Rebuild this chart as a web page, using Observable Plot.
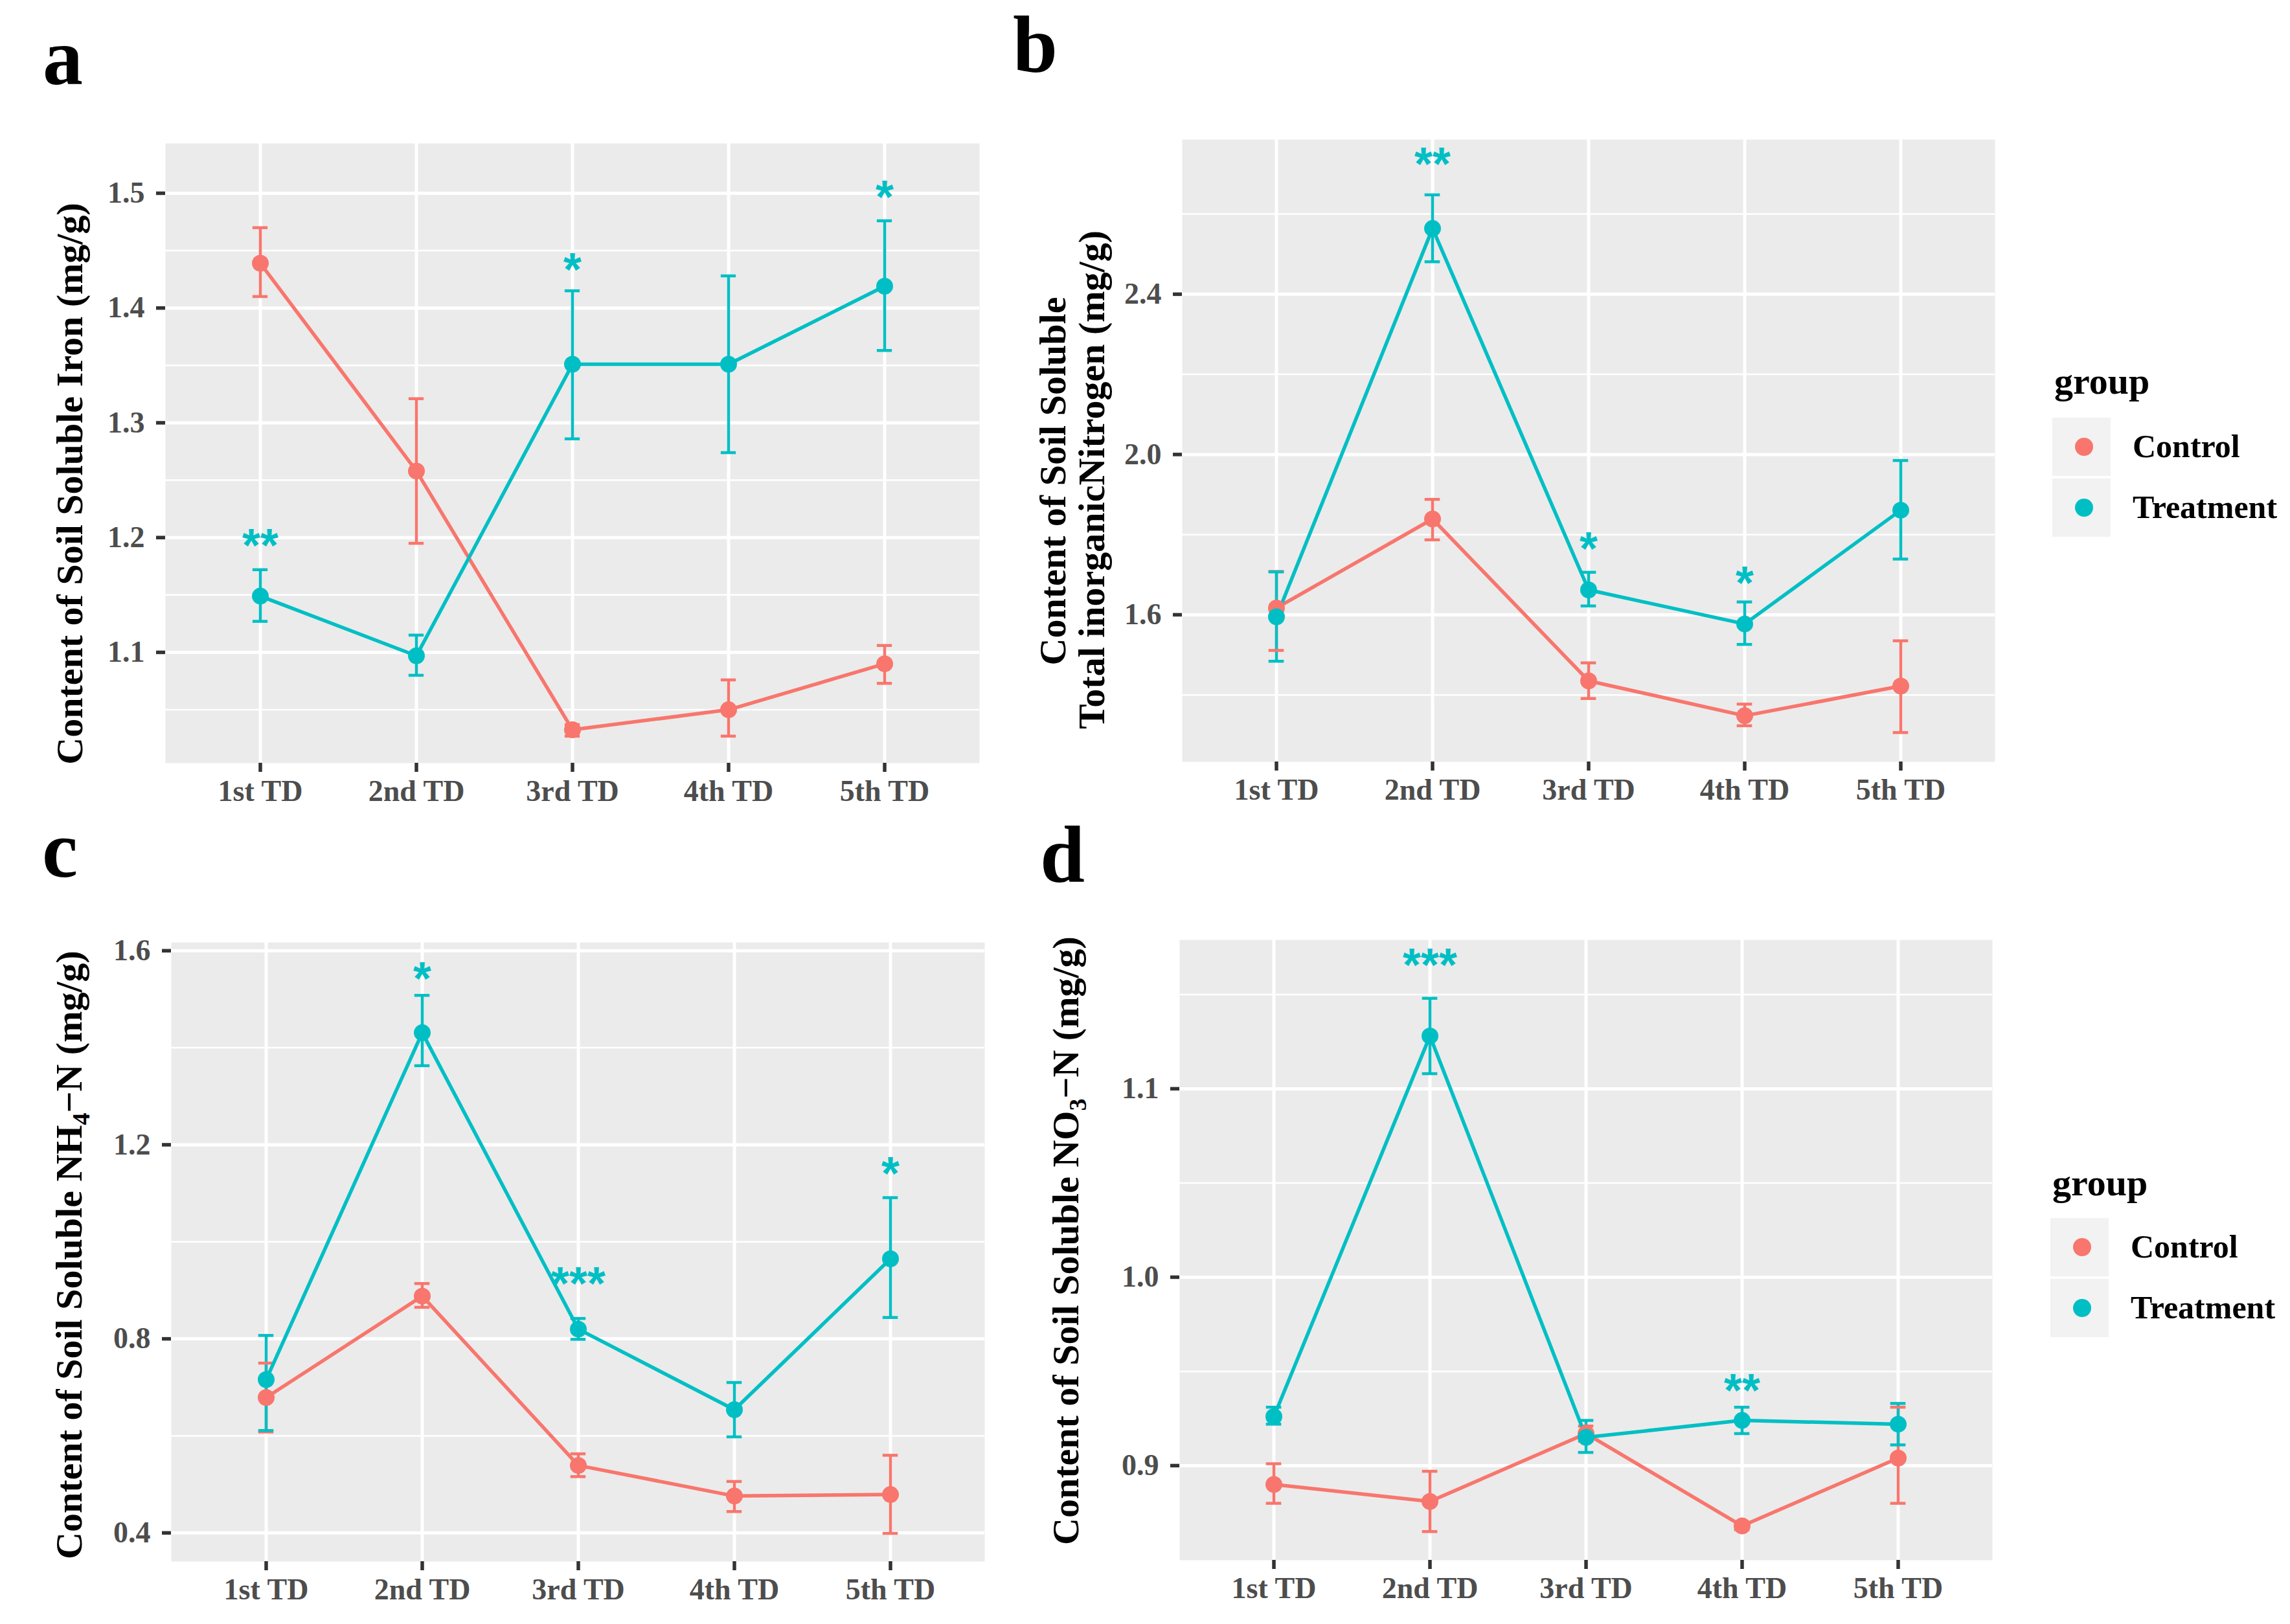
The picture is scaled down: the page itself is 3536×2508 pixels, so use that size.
<!DOCTYPE html>
<html>
<head>
<meta charset="utf-8">
<script src="https://cdn.jsdelivr.net/npm/d3@7"></script>
<script src="https://cdn.jsdelivr.net/npm/@observablehq/plot@0.6"></script>
<style>
  html, body { margin: 0; padding: 0; background: #fff; }
  #root { position: relative; width: 3536px; height: 2508px; background: #fff; overflow: hidden; }
  #root > svg, #root > figure { position: absolute; margin: 0; }
  #overlay { left: 0; top: 0; pointer-events: none; }
</style>
</head>
<body>
<div id="root"></div>
<script>
// ---------- data ----------
const tds = ["1st TD", "2nd TD", "3rd TD", "4th TD", "5th TD"];
const groups = ["Control", "Treatment"];
const groupColors = ["#F8766D", "#00BFC4"];

// a: soluble iron
const ironControl   = [1.439, 1.258, 1.0325, 1.050, 1.090];
const ironControlLo = [1.410, 1.195, 1.027, 1.027, 1.073];
const ironControlHi = [1.470, 1.321, 1.037, 1.076, 1.106];
const ironTreat     = [1.149, 1.097, 1.351, 1.351, 1.419];
const ironTreatLo   = [1.127, 1.080, 1.286, 1.274, 1.363];
const ironTreatHi   = [1.172, 1.115, 1.415, 1.428, 1.476];
const ironSig       = ["**", "", "*", "", "*"];
const ironSigY      = [1.197, null, 1.437, null, 1.500];
const ironTicks     = [1.1, 1.2, 1.3, 1.4, 1.5];
const ironMinor     = [1.05, 1.15, 1.25, 1.35, 1.45];

// b: total inorganic nitrogen
const tinControl   = [1.617, 1.839, 1.435, 1.348, 1.422];
const tinControlLo = [1.511, 1.787, 1.391, 1.323, 1.306];
const tinControlHi = [1.708, 1.888, 1.480, 1.377, 1.535];
const tinTreat     = [1.595, 2.564, 1.662, 1.577, 1.861];
const tinTreatLo   = [1.484, 2.481, 1.622, 1.526, 1.739];
const tinTreatHi   = [1.707, 2.648, 1.706, 1.632, 1.985];
const tinSig       = ["", "**", "*", "*", ""];
const tinSigY      = [null, 2.735, 1.775, 1.690, null];
const tinTicks     = [1.6, 2.0, 2.4];
const tinMinor     = [1.4, 1.8, 2.2, 2.6];

// c: NH4-N
const nhControl   = [0.679, 0.888, 0.539, 0.476, 0.479];
const nhControlLo = [0.608, 0.865, 0.516, 0.444, 0.399];
const nhControlHi = [0.750, 0.914, 0.563, 0.506, 0.560];
const nhTreat     = [0.716, 1.431, 0.820, 0.654, 0.965];
const nhTreatLo   = [0.611, 1.363, 0.799, 0.598, 0.844];
const nhTreatHi   = [0.807, 1.508, 0.842, 0.710, 1.091];
const nhSig       = ["", "*", "***", "", "*"];
const nhSigY      = [null, 1.551, 0.922, null, 1.149];
const nhTicks     = [0.4, 0.8, 1.2, 1.6];
const nhMinor     = [0.6, 1.0, 1.4];

// d: NO3-N
const noControl   = [0.890, 0.881, 0.917, 0.868, 0.904];
const noControlLo = [0.880, 0.865, 0.913, 0.866, 0.880];
const noControlHi = [0.901, 0.897, 0.921, 0.870, 0.931];
const noTreat     = [0.926, 1.128, 0.915, 0.924, 0.922];
const noTreatLo   = [0.922, 1.108, 0.907, 0.917, 0.911];
const noTreatHi   = [0.931, 1.148, 0.924, 0.931, 0.933];
const noSig       = ["", "***", "", "**", ""];
const noSigY      = [null, 1.168, null, 0.942, null];
const noTicks     = [0.9, 1.0, 1.1];
const noMinor     = [0.95, 1.05, 1.15];

// ---------- helpers ----------
function makeRows(c, cl, ch, t, tl, th) {
  const out = [];
  [[c, cl, ch], [t, tl, th]].forEach(([m, lo, hi], gi) => {
    tds.forEach((td, i) => out.push({td, group: groups[gi], mean: m[i], lo: lo[i], hi: hi[i]}));
  });
  return out;
}
function makeSig(labels, ys) {
  return tds.map((td, i) => ({td, label: labels[i], y: ys[i]})).filter(d => d.label);
}

const SERIF = "'Liberation Serif', 'Times New Roman', Times, serif";
const root = document.getElementById("root");

function panel(cfg) {
  const {left, top, width, height, ml, mr, mt, mb, domain, major, minor, rows, sig} = cfg;
  const bw = (width - ml - mr) / 5.2;
  const inset = (bw - 24) / 2;
  const chart = Plot.plot({
    width, height,
    marginLeft: ml, marginRight: mr, marginTop: mt, marginBottom: mb,
    x: {type: "band", domain: tds, paddingInner: 0, paddingOuter: 0.1, align: 0.5, label: null},
    y: {domain, label: null},
    color: {domain: groups, range: groupColors},
    style: {fontFamily: SERIF, fontWeight: "bold", background: "transparent", overflow: "visible"},
    marks: [
      Plot.frame({fill: "#EBEBEB", stroke: "none"}),
      Plot.ruleY(minor.filter(v => v > domain[0] && v < domain[1]), {stroke: "white", strokeWidth: 2.5}),
      Plot.ruleY(major, {stroke: "white", strokeWidth: 5}),
      Plot.ruleX(tds, {x: d => d, stroke: "white", strokeWidth: 5}),
      Plot.axisY(major, {tickSize: 14, tickPadding: 18, strokeWidth: 5.5, stroke: "#333333", color: "#4D4D4D",
        fontSize: 46, tickFormat: d3.format(".1f"), label: null}),
      Plot.axisX({tickSize: 14, tickPadding: 12, strokeWidth: 5.5, stroke: "#333333", color: "#4D4D4D",
        fontSize: 46, label: null}),
      Plot.ruleX(rows, {x: "td", y1: "lo", y2: "hi", stroke: "group", strokeWidth: 4.5}),
      Plot.tickY(rows, {x: "td", y: "hi", stroke: "group", strokeWidth: 4.5, insetLeft: inset, insetRight: inset}),
      Plot.tickY(rows, {x: "td", y: "lo", stroke: "group", strokeWidth: 4.5, insetLeft: inset, insetRight: inset}),
      Plot.line(rows, {x: "td", y: "mean", stroke: "group", strokeWidth: 5.5}),
      Plot.dot(rows, {x: "td", y: "mean", fill: "group", r: 13}),
      Plot.text(sig, {x: "td", y: "y", text: "label", fill: "#00BFC4", fontSize: 72,
        fontFamily: "'Liberation Sans', Arial, sans-serif", fontWeight: "bold", lineAnchor: "middle", dy: 8})
    ]
  });
  chart.style.left = left + "px";
  chart.style.top = top + "px";
  root.appendChild(chart);
}

panel({left: 0, top: 0, width: 1560, height: 1300, ml: 255, mr: 48, mt: 221, mb: 122,
  domain: [1.0035, 1.5434], major: ironTicks, minor: ironMinor,
  rows: makeRows(ironControl, ironControlLo, ironControlHi, ironTreat, ironTreatLo, ironTreatHi),
  sig: makeSig(ironSig, ironSigY)});
panel({left: 1550, top: 0, width: 1560, height: 1300, ml: 275, mr: 30, mt: 215, mb: 124,
  domain: [1.233, 2.786], major: tinTicks, minor: tinMinor,
  rows: makeRows(tinControl, tinControlLo, tinControlHi, tinTreat, tinTreatLo, tinTreatHi),
  sig: makeSig(tinSig, tinSigY)});
panel({left: 0, top: 1250, width: 1560, height: 1258, ml: 264, mr: 40, mt: 205, mb: 97,
  domain: [0.341, 1.617], major: nhTicks, minor: nhMinor,
  rows: makeRows(nhControl, nhControlLo, nhControlHi, nhTreat, nhTreatLo, nhTreatHi),
  sig: makeSig(nhSig, nhSigY)});
panel({left: 1550, top: 1250, width: 1560, height: 1258, ml: 271, mr: 34, mt: 201, mb: 99,
  domain: [0.8498, 1.179], major: noTicks, minor: noMinor,
  rows: makeRows(noControl, noControlLo, noControlHi, noTreat, noTreatLo, noTreatHi),
  sig: makeSig(noSig, noSigY)});

// ---------- overlay text: panel letters, axis titles, legends ----------
const ov = d3.select(root).append("svg").attr("id", "overlay")
  .attr("width", 3536).attr("height", 2508)
  .style("font-family", SERIF).style("font-weight", "bold");

const letters = [["a", 66, 130], ["b", 1564, 111], ["c", 65, 1354], ["d", 1606, 1362]];
letters.forEach(([t, x, y]) => ov.append("text").attr("x", x).attr("y", y)
  .attr("font-size", 124).attr("fill", "#000").text(t));

function ytitle(x, y, parts) {
  const t = ov.append("text").attr("transform", `translate(${x},${y}) rotate(-90)`)
    .attr("text-anchor", "middle").attr("font-size", 58).attr("fill", "#000");
  parts.forEach(p => {
    const s = t.append("tspan").text(p.t);
    if (p.sub) s.attr("font-size", 38).attr("dy", 12);
    if (p.after) s.attr("dy", -12);
  });
}
ytitle(127, 747, [{t: "Content of Soil Soluble Iron (mg/g)"}]);
ytitle(1645, 743, [{t: "Content of Soil Soluble"}]);
ytitle(1705, 741, [{t: "Total inorganicNitrogen (mg/g)"}]);
ytitle(126, 1938, [{t: "Content of Soil Soluble NH"}, {t: "4", sub: true}, {t: "\u2212N (mg/g)", after: true}]);
ytitle(1665, 1916, [{t: "Content of Soil Soluble NO"}, {t: "3", sub: true}, {t: "\u2212N (mg/g)", after: true}]);

function legend(x, titleY, keyYs) {
  ov.append("text").attr("x", x + 3).attr("y", titleY).attr("font-size", 58).attr("fill", "#000").text("group");
  groups.forEach((g, i) => {
    const cy = keyYs[i];
    ov.append("rect").attr("x", x).attr("y", cy - 45).attr("width", 90).attr("height", 90).attr("fill", "#F2F2F2");
    ov.append("circle").attr("cx", x + 49).attr("cy", cy).attr("r", 14).attr("fill", groupColors[i]);
    ov.append("text").attr("x", x + 124).attr("y", cy + 16).attr("font-size", 50).attr("fill", "#000").text(g);
  });
}
legend(3169, 608, [690, 784]);
legend(3166, 1846, [1926, 2020]);
</script>
</body>
</html>
